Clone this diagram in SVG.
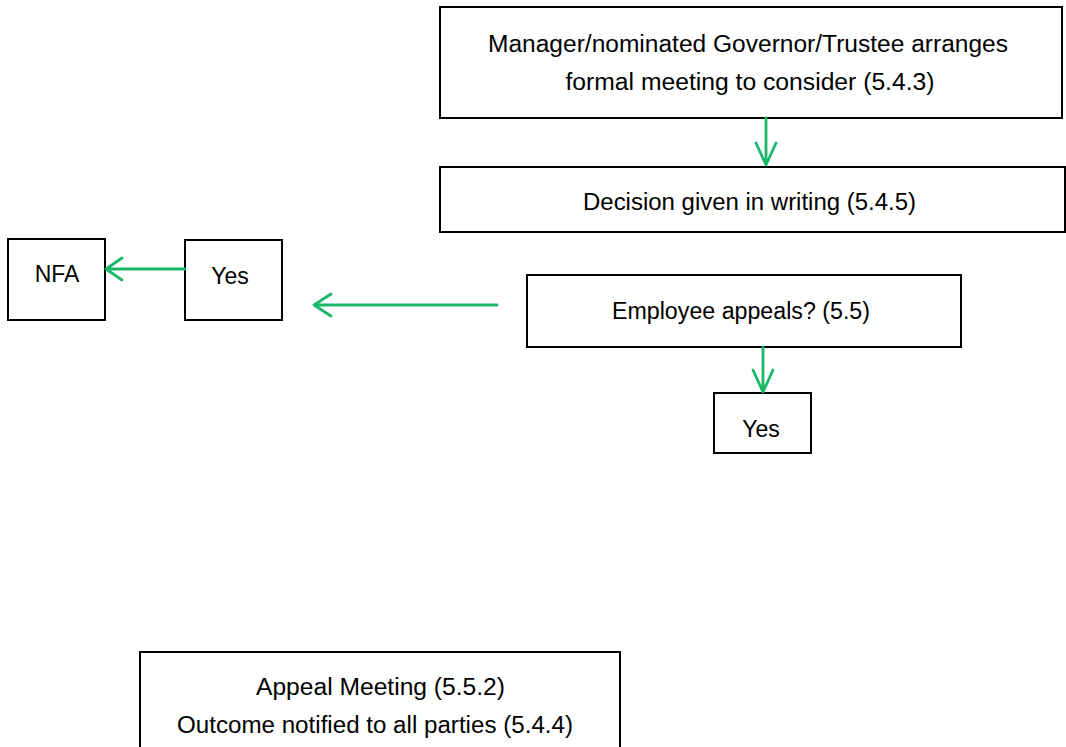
<svg xmlns="http://www.w3.org/2000/svg" width="1066" height="747" viewBox="0 0 1066 747">
<defs>
<style>
.box{fill:#fff;stroke:#000;stroke-width:2}
.t{font-family:"Liberation Sans",Arial,sans-serif;font-size:23px;fill:#000;text-anchor:middle}
.c{fill:none;stroke:#1bb86a;stroke-width:2.8;stroke-linecap:round;stroke-linejoin:round}
</style>
</defs>
<rect width="1066" height="747" fill="#fff"/>
<g id="n-manager">
<rect class="box" x="440" y="7" width="622" height="111"/>
<text class="t" x="748" y="52" textLength="520" lengthAdjust="spacingAndGlyphs">Manager/nominated Governor/Trustee arranges</text>
<text class="t" x="750" y="90" textLength="369" lengthAdjust="spacingAndGlyphs">formal meeting to consider (5.4.3)</text>
</g>
<g id="n-decision">
<rect class="box" x="440" y="167" width="625" height="65"/>
<text class="t" x="749.5" y="210" textLength="333" lengthAdjust="spacingAndGlyphs">Decision given in writing (5.4.5)</text>
</g>
<g id="n-appeals">
<rect class="box" x="527" y="275" width="434" height="72"/>
<text class="t" x="741" y="319" textLength="258" lengthAdjust="spacingAndGlyphs">Employee appeals? (5.5)</text>
</g>
<g id="n-yes-bottom">
<rect class="box" x="714" y="393" width="97" height="60"/>
<text class="t" x="761" y="437">Yes</text>
</g>
<g id="n-yes-left">
<rect class="box" x="185" y="240" width="97" height="80"/>
<text class="t" x="230" y="284">Yes</text>
</g>
<g id="n-nfa">
<rect class="box" x="8" y="239" width="97" height="81"/>
<text class="t" x="57" y="282">NFA</text>
</g>
<g id="n-appeal-meeting">
<rect class="box" x="140" y="652" width="480" height="96"/>
<text class="t" x="380.5" y="695" textLength="249" lengthAdjust="spacingAndGlyphs">Appeal Meeting (5.5.2)</text>
<text class="t" x="375" y="733" textLength="396" lengthAdjust="spacingAndGlyphs">Outcome notified to all parties (5.4.4)</text>
</g>
<g id="connectors">
<path class="c" d="M766 118 V165 M756 143 L766 165 L776 143"/>
<path class="c" d="M763 347 V392 M753 370 L763 392 L773 370"/>
<path class="c" d="M185 269 H106 M122 258 L106 269 L122 280"/>
<path class="c" d="M497 305 H314 M331 294 L314 305 L331 316"/>
</g>
</svg>
